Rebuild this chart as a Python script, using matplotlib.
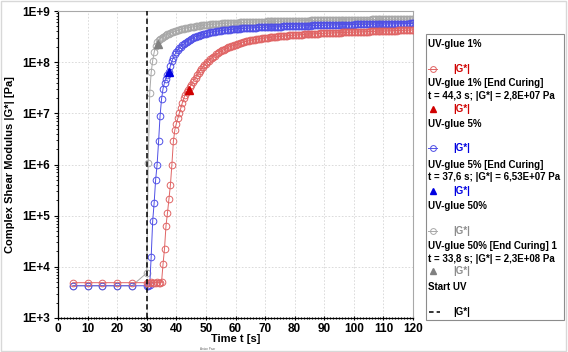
import numpy as np
import matplotlib
matplotlib.use("Agg")
from matplotlib import pyplot as plt
from matplotlib.lines import Line2D
from matplotlib.patches import Rectangle
from matplotlib.ticker import LogLocator, MultipleLocator, NullFormatter

plt.rcParams["font.family"] = ["Liberation Sans", "DejaVu Sans"]
plt.rcParams["font.weight"] = "bold"

# time axis [s]: sparse points before UV, then the 0.5 s sampling during curing
t_pre = [5, 10, 15, 20, 25]
t_cure = np.arange(30, 120.01, 0.5)
t = np.concatenate([t_pre, t_cure])

# log10(|G*| / Pa)
red_log = [
    3.69, 3.69, 3.69, 3.69, 3.69,
    3.69, 3.69, 3.69, 3.70, 3.69, 3.69, 3.69, 3.70, 3.69, 3.69,
    3.70, 4.05, 4.35, 4.80, 5.05, 5.33, 5.60, 6.00, 6.45, 6.68,
    6.80, 6.90, 7.00, 7.10, 7.20, 7.29, 7.36, 7.42, 7.46, 7.51,
    7.56, 7.61, 7.66, 7.70, 7.75, 7.79, 7.83, 7.87, 7.90, 7.94,
    7.97, 8.00, 8.03, 8.06, 8.09, 8.11, 8.13, 8.15, 8.17, 8.19,
    8.21, 8.23, 8.24, 8.26, 8.27, 8.29, 8.30, 8.31, 8.32, 8.33,
    8.34, 8.35, 8.36, 8.37, 8.38, 8.39, 8.40, 8.405, 8.41, 8.42,
    8.425, 8.43, 8.435, 8.44, 8.445, 8.45, 8.455, 8.46, 8.465, 8.47,
    8.475, 8.478, 8.481, 8.484, 8.487, 8.49, 8.493, 8.496, 8.499, 8.502,
    8.505, 8.508, 8.511, 8.514, 8.517, 8.52, 8.522, 8.524, 8.526, 8.528,
    8.530, 8.532, 8.534, 8.536, 8.538, 8.540, 8.542, 8.544, 8.546, 8.548,
    8.550, 8.552, 8.554, 8.556, 8.557, 8.558, 8.560, 8.561, 8.562, 8.564,
    8.565, 8.566, 8.568, 8.569, 8.570, 8.572, 8.573, 8.574, 8.576, 8.577,
    8.578, 8.579, 8.580, 8.582, 8.583, 8.584, 8.585, 8.586, 8.587, 8.588,
    8.589, 8.590, 8.591, 8.592, 8.593, 8.594, 8.595, 8.596, 8.597, 8.598,
    8.599, 8.600, 8.601, 8.602, 8.603, 8.604, 8.605, 8.606, 8.607, 8.608,
    8.609, 8.610, 8.611, 8.612, 8.613, 8.614, 8.615, 8.616, 8.617, 8.618,
    8.619, 8.620, 8.621, 8.622, 8.623, 8.624, 8.625, 8.626, 8.627, 8.628,
    8.630,
]
blue_log = [
    3.63, 3.63, 3.63, 3.63, 3.63,
    3.63, 3.62, 3.64, 4.20, 4.89, 5.25, 5.70, 6.00, 6.45, 6.95,
    7.28, 7.48, 7.60, 7.68, 7.75, 7.81, 7.93, 8.02, 8.09, 8.15,
    8.20, 8.24, 8.27, 8.30, 8.33, 8.355, 8.38, 8.40, 8.42, 8.44,
    8.455, 8.47, 8.485, 8.50, 8.51, 8.52, 8.53, 8.54, 8.55, 8.555,
    8.56, 8.567, 8.574, 8.58, 8.586, 8.592, 8.597, 8.602, 8.607, 8.611,
    8.615, 8.619, 8.623, 8.627, 8.631, 8.634, 8.637, 8.640, 8.643, 8.646,
    8.649, 8.652, 8.654, 8.656, 8.658, 8.660, 8.662, 8.664, 8.666, 8.668,
    8.670, 8.672, 8.674, 8.676, 8.677, 8.678, 8.680, 8.681, 8.682, 8.684,
    8.685, 8.686, 8.688, 8.689, 8.690, 8.691, 8.692, 8.693, 8.694, 8.695,
    8.696, 8.697, 8.698, 8.699, 8.700, 8.701, 8.702, 8.703, 8.704, 8.705,
    8.706, 8.707, 8.708, 8.709, 8.710, 8.711, 8.712, 8.713, 8.714, 8.714,
    8.715, 8.716, 8.717, 8.718, 8.718, 8.719, 8.720, 8.721, 8.722, 8.722,
    8.723, 8.724, 8.725, 8.725, 8.726, 8.727, 8.727, 8.728, 8.729, 8.729,
    8.730, 8.731, 8.731, 8.732, 8.733, 8.733, 8.734, 8.734, 8.735, 8.736,
    8.736, 8.737, 8.737, 8.738, 8.738, 8.739, 8.740, 8.740, 8.741, 8.741,
    8.742, 8.742, 8.743, 8.743, 8.744, 8.744, 8.745, 8.745, 8.746, 8.746,
    8.747, 8.747, 8.748, 8.748, 8.749, 8.749, 8.750, 8.750, 8.751, 8.751,
    8.752, 8.752, 8.753, 8.753, 8.754, 8.754, 8.755, 8.755, 8.756, 8.756,
    8.757,
]
gray_log = [
    3.63, 3.63, 3.63, 3.63, 3.63,
    3.88, 6.03, 7.40, 7.80, 8.03, 8.19, 8.32, 8.39, 8.43, 8.46,
    8.48, 8.50, 8.52, 8.535, 8.55, 8.56, 8.57, 8.58, 8.59, 8.60,
    8.61, 8.62, 8.63, 8.64, 8.648, 8.655, 8.662, 8.668, 8.674, 8.68,
    8.686, 8.691, 8.696, 8.70, 8.705, 8.709, 8.713, 8.717, 8.721, 8.725,
    8.728, 8.731, 8.734, 8.737, 8.740, 8.743, 8.746, 8.748, 8.750, 8.752,
    8.754, 8.756, 8.758, 8.760, 8.762, 8.764, 8.766, 8.768, 8.769, 8.771,
    8.772, 8.774, 8.775, 8.776, 8.778, 8.779, 8.780, 8.781, 8.782, 8.783,
    8.784, 8.785, 8.786, 8.787, 8.788, 8.789, 8.790, 8.791, 8.792, 8.793,
    8.794, 8.795, 8.796, 8.796, 8.797, 8.798, 8.799, 8.800, 8.800, 8.801,
    8.802, 8.802, 8.803, 8.804, 8.804, 8.805, 8.806, 8.806, 8.807, 8.808,
    8.808, 8.809, 8.809, 8.810, 8.811, 8.811, 8.812, 8.812, 8.813, 8.813,
    8.814, 8.815, 8.815, 8.816, 8.816, 8.817, 8.817, 8.818, 8.818, 8.819,
    8.819, 8.820, 8.820, 8.821, 8.821, 8.822, 8.822, 8.823, 8.823, 8.824,
    8.824, 8.825, 8.825, 8.826, 8.826, 8.827, 8.827, 8.827, 8.828, 8.828,
    8.829, 8.829, 8.830, 8.830, 8.830, 8.831, 8.831, 8.832, 8.832, 8.832,
    8.833, 8.833, 8.834, 8.834, 8.834, 8.835, 8.835, 8.835, 8.836, 8.836,
    8.837, 8.837, 8.837, 8.838, 8.838, 8.838, 8.839, 8.839, 8.839, 8.840,
    8.840, 8.840, 8.841, 8.841, 8.841, 8.842, 8.842, 8.842, 8.843, 8.843,
    8.843,
]

# end of curing points (t [s], |G*| [Pa])
end_t = [44.3, 37.6, 33.8]
end_g = [2.8e7, 6.53e7, 2.3e8]
start_uv = 30

series_names = ["UV-glue 1%", "UV-glue 5%", "UV-glue 50%"]
end_texts = ["t = 44,3 s; |G*| = 2,8E+07 Pa",
             "t = 37,6 s; |G*| = 6,53E+07 Pa",
             "t = 33,8 s; |G*| = 2,3E+08 Pa"]
y_ticks = [1e3, 1e4, 1e5, 1e6, 1e7, 1e8, 1e9]
y_ticklabels = ["1E+3", "1E+4", "1E+5", "1E+6", "1E+7", "1E+8", "1E+9"]

line_cols = ["#e06464", "#4f4fe6", "#a8a8a8"]
tri_cols = ["#d00000", "#0000e0", "#808080"]

W, H = 568, 352
fig = plt.figure(figsize=(W / 100, H / 100), dpi=100)
ax = fig.add_axes([58 / W, 1 - 318 / H, 355 / W, 307 / H])

# gray first so blue sits on top of it at the baseline
for logs, col, z in [(gray_log, line_cols[2], 2), (blue_log, line_cols[1], 3),
                     (red_log, line_cols[0], 4)]:
    ax.plot(t, 10 ** np.array(logs), color=col, lw=0.7, marker="o", ms=4.8,
            mfc="none", mec=col, mew=0.7, zorder=z)

for tt, gg, col in zip(end_t, end_g, tri_cols):
    ax.plot(tt, gg, marker="^", ls="none", color=col, ms=5.5, zorder=6)

ax.axvline(start_uv, color="black", ls=(0, (3.5, 2)), lw=1.1, zorder=7)

ax.set_yscale("log")
ax.set_ylim(1e3, 1e9)
ax.set_xlim(0, 120)
ax.set_yticks(y_ticks)
ax.set_yticklabels(y_ticklabels)
ax.yaxis.set_minor_locator(LogLocator(base=10, subs=np.arange(2, 10)))
ax.yaxis.set_minor_formatter(NullFormatter())
ax.xaxis.set_major_locator(MultipleLocator(10))
ax.xaxis.set_minor_locator(MultipleLocator(1))

ax.tick_params(axis="both", which="major", labelsize=8.5, width=0.8)
ax.tick_params(axis="y", which="major", direction="out", length=3, pad=3)
ax.tick_params(axis="y", which="minor", direction="out", length=1.5, width=0.6)
ax.tick_params(axis="x", which="major", direction="inout", length=3, pad=2)
ax.tick_params(axis="x", which="minor", direction="inout", length=2, width=0.7)

ax.grid(which="major", color="#d6d6d6", ls=(0, (2, 2)), lw=0.6)
ax.set_axisbelow(True)
for side in ["top", "right"]:
    ax.spines[side].set_color("#a8a8a8")
for side in ["left", "bottom"]:
    ax.spines[side].set_color("black")
    ax.spines[side].set_linewidth(0.9)

ax.set_ylabel("Complex Shear Modulus |G*| [Pa]", fontsize=8, fontweight="bold")
ax.yaxis.set_label_coords(-0.121, 0.5)
ax.set_xlabel("Time t [s]", fontsize=8, fontweight="bold")
ax.xaxis.set_label_coords(0.5, -0.053)

fig.text(208 / W, 1 - 348.5 / H, "Anton Paar", fontsize=2.2, color="#666666",
         ha="center", va="center", fontweight="normal")


# legend box drawn by hand in figure pixels
def fx(x):
    return x / W


def fy(y):
    return 1 - y / H


fig.add_artist(Rectangle((fx(426), fy(320)), 138 / W, 286 / H, fill=False,
                         ec="#8c8c8c", lw=0.8, transform=fig.transFigure))

head_y = [44, 124, 206]
circ_y = [68.5, 147.7, 230.5]
end_y = [83.3, 165, 246]
endt_y = [96, 176.5, 259]
tri_y = [109.3, 190.7, 270.7]
label_cols = ["#d00000", "#0000e0", "#8c8c8c"]
end_heads = ["UV-glue 1% [End Curing]", "UV-glue 5% [End Curing]",
             "UV-glue 50% [End Curing] 1"]

txt = dict(fontsize=7, fontweight="bold", va="center", ha="left")
for i in range(3):
    fig.text(fx(428), fy(head_y[i]), series_names[i], color="black", **txt)
    fig.add_artist(Line2D([fx(428), fx(437)], [fy(circ_y[i])] * 2, color=line_cols[i],
                          lw=0.7, transform=fig.transFigure))
    fig.add_artist(Line2D([fx(432.5)], [fy(circ_y[i])], marker="o", ms=4.2, mfc="none",
                          mec=line_cols[i], mew=0.7, transform=fig.transFigure))
    fig.text(fx(453), fy(circ_y[i]), "|G*|", color=label_cols[i], **txt)
    fig.text(fx(428), fy(end_y[i]), end_heads[i], color="black", **txt)
    fig.text(fx(428), fy(endt_y[i]), end_texts[i], color="black", **txt)
    fig.add_artist(Line2D([fx(433)], [fy(tri_y[i])], marker="^", ms=5, color=tri_cols[i],
                          transform=fig.transFigure))
    fig.text(fx(453), fy(tri_y[i]), "|G*|", color=label_cols[i], **txt)

fig.text(fx(428), fy(286.7), "Start UV", color="black", **txt)
fig.add_artist(Line2D([fx(429), fx(440)], [fy(312)] * 2, color="black", lw=1.1,
                      ls=(0, (3, 2)), transform=fig.transFigure))
fig.text(fx(453), fy(312), "|G*|", color="black", **txt)

# faint outer frame of the exported picture
fig.add_artist(Rectangle((0.002, 0.003), 0.995, 0.994, fill=False, ec="#d8d8d8",
                         lw=1, transform=fig.transFigure))

fig.savefig("out.png", dpi=100)
